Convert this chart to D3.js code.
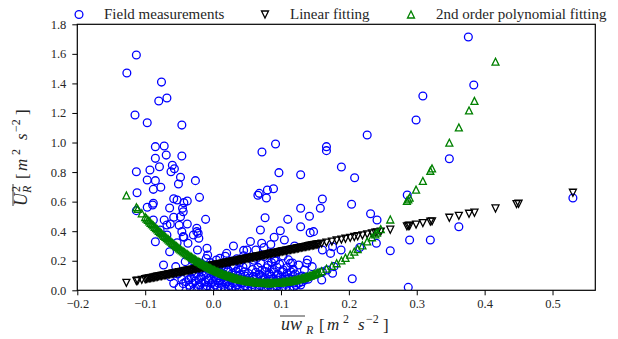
<!DOCTYPE html>
<html><head><meta charset="utf-8">
<script src="https://cdn.jsdelivr.net/npm/d3@7"></script>
<style>
html,body{margin:0;padding:0;background:#fff;}
svg, svg text{font-family:"Liberation Serif","DejaVu Serif","Times New Roman",serif;}
</style>
</head><body>
<svg id="chart" width="618" height="339"></svg>
<script>
// ---------------- data ----------------
const xTickValues = [-0.2, -0.1, 0.0, 0.1, 0.2, 0.3, 0.4, 0.5];
const yTickValues = [0.0, 0.2, 0.4, 0.6, 0.8, 1.0, 1.2, 1.4, 1.6, 1.8];
const seriesNames = ["Field measurements", "Linear fitting", "2nd order polynomial fitting"];

// field measurements [uw_R, U_R^2]
const fieldMeasurements = [
  [-0.113,1.592],[-0.127,1.470],[-0.076,1.409],[-0.068,1.301],[-0.080,1.281],[-0.115,1.186],[-0.097,1.134],[-0.046,1.118],
  [-0.085,0.972],[-0.072,0.976],[-0.069,0.915],[-0.046,0.909],[-0.085,0.893],[-0.113,0.802],[-0.093,0.814],[-0.079,0.836],
  [-0.060,0.846],[-0.057,0.823],[-0.062,0.802],[-0.097,0.746],[-0.085,0.742],[-0.048,0.765],[-0.026,0.742],[-0.051,0.719],
  [-0.077,0.697],[-0.088,0.683],[-0.112,0.660],[-0.020,0.629],[-0.058,0.620],[-0.053,0.611],[-0.038,0.604],[-0.043,0.593],
  [-0.088,0.589],[-0.089,0.577],[-0.064,0.557],[-0.045,0.555],[-0.097,0.562],[-0.113,0.539],[-0.044,0.532],[-0.011,0.480],
  [-0.058,0.494],[-0.088,0.476],[-0.072,0.476],[-0.048,0.498],[-0.063,0.449],[-0.050,0.440],[-0.038,0.449],[-0.024,0.420],
  [-0.022,0.386],[-0.078,0.408],[-0.068,0.374],[-0.044,0.363],[-0.068,0.442],[-0.046,0.397],[-0.043,0.359],[-0.029,0.374],
  [-0.024,0.397],[-0.053,0.322],[-0.085,0.329],[-0.064,0.261],[-0.073,0.171],[-0.041,0.194],[-0.055,0.160],[-0.037,0.318],
  [-0.021,0.352],[-0.009,0.284],[-0.023,0.273],[-0.008,0.239],[-0.063,0.092],[-0.058,0.047],
  [0.092,0.990],[0.072,0.936],[0.167,0.972],[0.167,0.945],[0.189,0.834],[0.2085,0.762],[0.097,0.796],[0.129,0.782],
  [0.068,0.656],[0.066,0.643],[0.080,0.679],[0.089,0.687],[0.0785,0.625],[0.161,0.618],[0.158,0.555],[0.129,0.555],
  [0.204,0.582],[0.142,0.501],[0.0766,0.491],[0.110,0.480],[0.232,0.518],[0.2415,0.476],[0.227,1.051],
  [0.129,0.430],[0.143,0.390],[0.148,0.397],[0.0697,0.408],[0.099,0.403],[0.090,0.359],[0.0716,0.318],[0.063,0.273],
  [0.161,0.273],[0.176,0.295],[0.173,0.250],[0.205,0.078],[0.1885,0.273],[0.139,0.205],[0.114,0.183],[0.146,0.160],
  [0.178,0.160],[0.1345,0.137],[0.119,0.050],[0.129,0.036],[0.160,0.070],[0.168,0.137],[0.050,0.273],
  [0.2405,0.318],[0.216,0.290],[0.138,0.183],[0.161,0.126],[0.176,0.115],[0.135,0.090],[0.140,0.075],
  [0.376,1.714],[0.384,1.389],[0.309,1.315],[0.299,1.152],[0.348,0.890],[0.286,0.645],[0.530,0.625],
  [0.2895,0.340],[0.320,0.340],[0.261,0.268],[0.362,0.430],[0.2875,0.020],
  [0.030,0.300],[0.045,0.270],[0.055,0.330],[0.020,0.250],[0.085,0.310],[0.105,0.340],[0.120,0.300],[0.075,0.290],
  [-0.050,0.020],[-0.046,0.075],[-0.052,0.110],[-0.044,0.045],
  [-0.028,0.008],[-0.015,0.012],[-0.004,0.006],[0.006,0.015],[0.018,0.009],[0.027,0.018],[0.039,0.007],[0.051,0.013],
  [0.062,0.010],[0.075,0.016],[0.088,0.006],[0.101,0.014],[0.113,0.009],
  [-0.035,0.034],[-0.021,0.038],[-0.009,0.031],[0.003,0.036],[0.013,0.040],[0.024,0.032],[0.035,0.037],[0.047,0.030],
  [0.058,0.039],[0.069,0.033],[0.082,0.036],[0.094,0.031],[0.107,0.040],[0.122,0.034],
  [-0.040,0.058],[-0.026,0.063],[-0.012,0.056],[0.000,0.061],[0.010,0.065],[0.021,0.057],[0.033,0.062],[0.044,0.055],
  [0.056,0.064],[0.066,0.059],[0.079,0.062],[0.091,0.057],[0.104,0.065],[0.117,0.060],[0.131,0.058],
  [-0.032,0.084],[-0.018,0.088],[-0.006,0.081],[0.008,0.086],[0.019,0.090],[0.030,0.083],[0.042,0.087],[0.053,0.082],
  [0.064,0.089],[0.077,0.085],[0.089,0.080],[0.099,0.088],[0.112,0.083],[0.126,0.087],
  [-0.025,0.112],[-0.010,0.108],[0.004,0.115],[0.015,0.110],[0.028,0.113],[0.040,0.106],[0.052,0.114],[0.068,0.109],
  [0.083,0.112],[0.096,0.107],[0.109,0.115],[0.121,0.110],
  [-0.020,0.140],[0.001,0.143],[0.022,0.138],[0.037,0.145],[0.058,0.141],[0.072,0.136],[0.087,0.144],[0.103,0.139],[0.118,0.142],
  [-0.013,0.170],[0.011,0.174],[0.031,0.168],[0.049,0.172],[0.081,0.169],[0.098,0.176],[0.126,0.171],
  [-0.030,0.200],[0.005,0.205],[0.027,0.198],[0.060,0.203],[0.092,0.199],[0.111,0.206],
  [0.018,0.230],[0.045,0.234],[0.075,0.228],[0.103,0.232],
  [-0.034,0.020],[-0.022,0.022],[-0.010,0.019],[0.001,0.023],[0.012,0.021],[0.023,0.018],[0.033,0.024],[0.045,0.020],
  [0.057,0.022],[0.068,0.019],[0.081,0.023],[0.094,0.021],[0.107,0.018],[0.119,0.024],
  [-0.030,0.047],[-0.017,0.049],[-0.003,0.045],[0.008,0.048],[0.019,0.046],[0.029,0.050],[0.041,0.047],[0.052,0.044],
  [0.063,0.049],[0.074,0.046],[0.086,0.048],[0.098,0.045],[0.112,0.049],[0.126,0.047],
  [-0.036,0.072],[-0.021,0.074],[-0.007,0.070],[0.005,0.073],[0.016,0.071],[0.026,0.075],[0.038,0.072],[0.049,0.069],
  [0.060,0.074],[0.072,0.071],[0.084,0.073],[0.095,0.070],[0.108,0.074],[0.120,0.072],[0.135,0.070],
  [-0.028,0.097],[-0.014,0.099],[0.002,0.095],[0.013,0.098],[0.024,0.096],[0.036,0.100],[0.047,0.097],[0.059,0.094],
  [0.071,0.099],[0.085,0.096],[0.093,0.098],[0.106,0.095],[0.118,0.099],[0.131,0.097],
  [-0.031,0.125],[-0.016,0.127],[-0.002,0.123],[0.010,0.126],[0.021,0.124],[0.034,0.128],[0.046,0.125],[0.063,0.122],
  [0.077,0.127],[0.090,0.124],[0.102,0.126],[0.115,0.123],
  [-0.025,0.155],[-0.008,0.157],[0.008,0.153],[0.016,0.156],[0.030,0.154],[0.044,0.158],[0.066,0.155],[0.079,0.152],
  [0.094,0.157],[0.109,0.154],
  [-0.018,0.185],[-0.004,0.187],[0.019,0.183],[0.039,0.186],[0.070,0.184],[0.086,0.188],[0.117,0.185],
  [-0.010,0.215],[0.010,0.217],[0.035,0.213],[0.064,0.216],[0.090,0.214]
];

// fitted values at the measurement abscissae
const fitX = [-0.1277,-0.113,-0.111,-0.105,
  -0.100,-0.096,-0.092,-0.088,-0.084,-0.080,-0.076,-0.072,-0.068,-0.064,
  -0.060,-0.056,-0.052,-0.048,-0.044,-0.040,-0.036,-0.032,-0.028,-0.024,
  -0.020,-0.016,-0.012,-0.008,-0.004,0.000,0.004,0.008,0.012,0.016,
  0.020,0.024,0.028,0.032,0.036,0.040,0.044,0.048,0.052,0.056,
  0.060,0.064,0.068,0.072,0.076,0.080,0.084,0.088,0.092,0.096,
  0.100,0.104,0.108,0.112,0.116,0.120,0.124,0.128,0.132,0.136,
  0.140,0.144,0.148,0.152,0.156,
  0.160,0.167,0.175,0.182,0.189,0.195,0.202,0.208,0.213,0.220,
  0.227,0.234,0.239,0.2415,0.247,0.261,0.2855,0.2875,0.2895,0.299,
  0.309,0.320,0.3225,0.348,0.362,0.377,0.385,0.416,0.447,0.450,0.530,
  -0.098,-0.094,-0.090,-0.086,-0.082,-0.078,-0.074,-0.070,-0.066,-0.062,
  -0.058,-0.054,-0.050,-0.046,-0.042,-0.038,-0.034,-0.030,-0.026,-0.022,
  -0.018,-0.014,-0.010,-0.006,-0.002,0.002,0.006,0.010,0.014,0.018,
  0.022,0.026,0.030,0.034,0.038,0.042,0.046,0.050,0.054,0.058,
  0.062,0.066,0.070,0.074,0.078,0.082,0.086,0.090,0.094,0.098,
  0.102,0.106,0.110,0.114,0.118,0.122,0.126,0.130,0.134,0.138,
  0.142,0.146,0.150,0.154];

const linearFit = [0.050,0.063,0.065,0.071,
  0.075,0.079,0.083,0.086,0.090,0.094,0.097,0.101,0.105,0.109,
  0.112,0.116,0.120,0.123,0.127,0.131,0.135,0.138,0.142,0.146,
  0.149,0.153,0.157,0.161,0.164,0.168,0.172,0.175,0.179,0.183,
  0.187,0.190,0.194,0.198,0.201,0.205,0.209,0.213,0.216,0.220,
  0.224,0.227,0.231,0.235,0.239,0.242,0.246,0.250,0.253,0.257,
  0.261,0.265,0.268,0.272,0.276,0.279,0.283,0.287,0.291,0.294,
  0.298,0.302,0.305,0.309,0.313,
  0.316,0.323,0.330,0.337,0.343,0.349,0.355,0.361,0.366,0.372,
  0.379,0.385,0.390,0.392,0.397,0.410,0.433,0.435,0.437,0.445,
  0.455,0.465,0.467,0.491,0.504,0.518,0.525,0.554,0.583,0.586,0.660,
  0.077,0.081,0.084,0.088,0.092,0.096,0.099,0.103,0.107,0.110,
  0.114,0.118,0.122,0.125,0.129,0.133,0.136,0.140,0.144,0.148,
  0.151,0.155,0.159,0.162,0.166,0.170,0.174,0.177,0.181,0.185,
  0.188,0.192,0.196,0.200,0.203,0.207,0.211,0.214,0.218,0.222,
  0.226,0.229,0.233,0.237,0.240,0.244,0.248,0.252,0.255,0.259,
  0.263,0.266,0.270,0.274,0.278,0.281,0.285,0.289,0.292,0.296,
  0.300,0.303,0.307,0.311];

const polyFit = [0.642,0.562,0.551,0.521,
  0.496,0.476,0.457,0.439,0.421,0.403,0.386,0.369,0.353,0.337,
  0.321,0.306,0.292,0.277,0.263,0.250,0.237,0.225,0.213,0.201,
  0.190,0.179,0.169,0.159,0.149,0.140,0.131,0.123,0.115,0.108,
  0.101,0.095,0.089,0.083,0.078,0.073,0.069,0.065,0.061,0.058,
  0.056,0.054,0.052,0.050,0.050,0.049,0.049,0.050,0.050,0.052,
  0.053,0.055,0.058,0.061,0.064,0.068,0.072,0.077,0.082,0.088,
  0.094,0.100,0.107,0.114,0.122,
  0.130,0.146,0.165,0.183,0.202,0.220,0.242,0.262,0.279,0.304,
  0.331,0.359,0.379,0.390,0.414,0.479,0.605,0.615,0.627,0.681,
  0.740,0.809,0.825,0.999,1.102,1.217,1.282,1.547,1.838,1.868,2.745,
  0.486,0.467,0.448,0.430,0.412,0.394,0.377,0.361,0.345,0.329,
  0.314,0.299,0.284,0.270,0.257,0.244,0.231,0.219,0.207,0.195,
  0.184,0.174,0.163,0.154,0.144,0.136,0.127,0.119,0.112,0.105,
  0.098,0.092,0.086,0.080,0.075,0.071,0.067,0.063,0.060,0.057,
  0.055,0.053,0.051,0.050,0.049,0.049,0.049,0.050,0.051,0.052,
  0.054,0.057,0.059,0.063,0.066,0.070,0.075,0.080,0.085,0.091,
  0.097,0.104,0.111,0.118];

// ---------------- drawing ----------------
const FONT = '"Liberation Serif","DejaVu Serif","Times New Roman",serif';
const BLUE = "#0000ff", GREEN = "#008000", BLACK = "#000000", TXT = "#262626";
const svg = d3.select("#chart");
const L = 77.3, R = 595.3, T = 24.3, B = 290.3;
const x = d3.scaleLinear().domain([-0.2, 0.563]).range([L, R]);
const y = d3.scaleLinear().domain([0, 1.8]).range([B, T]);

svg.append("defs").append("clipPath").attr("id", "clip")
  .append("rect").attr("x", L).attr("y", T).attr("width", R - L).attr("height", B - T);

const rC = 3.9, rT = 3.5;
const triDown = r => `M${-r},${-r}L${r},${-r}L0,${r}Z`;
const triUp = r => `M0,${-r}L${-r},${r}L${r},${r}Z`;

const marks = svg.append("g").attr("clip-path", "url(#clip)");

marks.append("g").selectAll("circle").data(fieldMeasurements).join("circle")
  .attr("cx", d => x(d[0])).attr("cy", d => y(d[1])).attr("r", rC)
  .attr("fill", "none").attr("stroke", BLUE).attr("stroke-width", 1.3);

marks.append("g").selectAll("path").data(fitX.map((v, i) => [v, linearFit[i]])).join("path")
  .attr("transform", d => `translate(${x(d[0])},${y(d[1])})`)
  .attr("d", triDown(rT)).attr("fill", "none").attr("stroke", BLACK).attr("stroke-width", 1.3);

marks.append("g").selectAll("path").data(fitX.map((v, i) => [v, polyFit[i]])).join("path")
  .attr("transform", d => `translate(${x(d[0])},${y(d[1])})`)
  .attr("d", triUp(rT)).attr("fill", "none").attr("stroke", GREEN).attr("stroke-width", 1.3);

// axes
const fmt = d3.format(".1f");
const xAxis = svg.append("g").attr("transform", `translate(0,${B})`)
  .call(d3.axisBottom(x).tickValues(xTickValues).tickFormat(fmt).tickSize(5).tickPadding(4));
const yAxis = svg.append("g").attr("transform", `translate(${L},0)`)
  .call(d3.axisLeft(y).tickValues(yTickValues).tickFormat(fmt).tickSize(5).tickPadding(6));
[xAxis, yAxis].forEach(a => {
  a.attr("font-family", FONT);
  a.select(".domain").remove();
  a.selectAll(".tick line").attr("stroke", BLACK).attr("stroke-width", 1);
  a.selectAll(".tick text").attr("fill", TXT).attr("font-family", FONT).attr("font-size", 12.5);
});

svg.append("rect").attr("x", L).attr("y", T).attr("width", R - L).attr("height", B - T)
  .attr("fill", "none").attr("stroke", BLACK).attr("stroke-width", 1.2);

// legend
const legend = svg.append("g");
const legItems = [
  {mx: 79, tx: 104, kind: "circle"},
  {mx: 265, tx: 290, kind: "down"},
  {mx: 411, tx: 436, kind: "up"}
];
legItems.forEach((it, i) => {
  const cy = 14.5;
  if (it.kind === "circle") legend.append("circle").attr("cx", it.mx).attr("cy", cy).attr("r", rC)
      .attr("fill", "none").attr("stroke", BLUE).attr("stroke-width", 1.3);
  else legend.append("path").attr("transform", `translate(${it.mx},${cy})`)
      .attr("d", it.kind === "down" ? triDown(rT) : triUp(rT))
      .attr("fill", "none").attr("stroke", it.kind === "down" ? BLACK : GREEN).attr("stroke-width", 1.3);
  legend.append("text").attr("x", it.tx).attr("y", 18.5).attr("fill", TXT)
    .attr("font-family", FONT).attr("font-size", 15).text(seriesNames[i]);
});

// axis labels (math-like)
function piece(g, p) {
  g.append("text").attr("x", p.a).attr("y", p.b).attr("fill", TXT)
    .attr("font-family", FONT).attr("font-size", p.s)
    .attr("font-style", p.i ? "italic" : "normal").text(p.t);
}
const xl = svg.append("g");
[
  {t: "uw", a: 281, b: 330, s: 18, i: true},
  {t: "R", a: 306, b: 334, s: 12, i: true},
  {t: "[", a: 319, b: 331, s: 17},
  {t: "m", a: 327, b: 330, s: 17, i: true},
  {t: "2", a: 343, b: 323, s: 12},
  {t: "s", a: 358, b: 330, s: 17, i: true},
  {t: "\u22122", a: 366, b: 323, s: 12},
  {t: "]", a: 383, b: 331, s: 17}
].forEach(p => piece(xl, p));
xl.append("line").attr("x1", 280).attr("x2", 305).attr("y1", 316).attr("y2", 316)
  .attr("stroke", TXT).attr("stroke-width", 0.9);

const yl = svg.append("g").attr("transform", "translate(0,206) rotate(-90)");
[
  {t: "U", a: 0, b: 27, s: 18, i: true},
  {t: "2", a: 14, b: 20, s: 12},
  {t: "R", a: 13, b: 31, s: 12, i: true},
  {t: "[", a: 27, b: 28, s: 17},
  {t: "m", a: 35, b: 27, s: 17, i: true},
  {t: "2", a: 51, b: 20, s: 12},
  {t: "s", a: 66, b: 27, s: 17, i: true},
  {t: "\u22122", a: 74, b: 20, s: 12},
  {t: "]", a: 91, b: 28, s: 17}
].forEach(p => piece(yl, p));
yl.append("line").attr("x1", 0).attr("x2", 22).attr("y1", 13).attr("y2", 13)
  .attr("stroke", TXT).attr("stroke-width", 0.9);
</script>
</body></html>
